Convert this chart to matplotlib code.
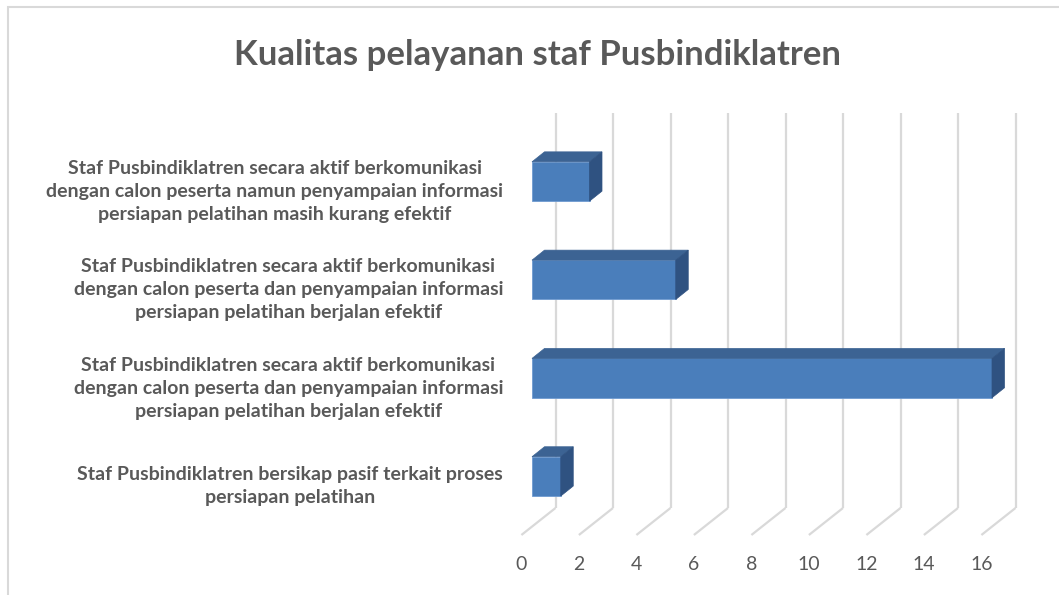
import matplotlib
matplotlib.use("Agg")
import matplotlib.pyplot as plt
from matplotlib.patches import Polygon, Rectangle

# ---------------- data ----------------
categories = [
    "Staf Pusbindiklatren secara aktif berkomunikasi\ndengan calon peserta namun penyampaian informasi\npersiapan pelatihan masih kurang efektif",
    "Staf Pusbindiklatren secara aktif berkomunikasi\ndengan calon peserta dan penyampaian informasi\npersiapan pelatihan berjalan efektif",
    "Staf Pusbindiklatren secara aktif berkomunikasi\ndengan calon peserta dan penyampaian informasi\npersiapan pelatihan berjalan efektif",
    "Staf Pusbindiklatren bersikap pasif terkait proses\npersiapan pelatihan",
]
values = [2, 5, 16, 1]
xticks = [0, 2, 4, 6, 8, 10, 12, 14, 16]
title = "Kualitas pelayanan staf Pusbindiklatren"

# ---------------- style / layout ----------------
W, H, DPI = 1059, 595, 100
FRONT = "#4A7EBB"
TOP = "#3C6393"
SIDE = "#2F5281"
GRID = "#D9D9D9"
TXT = "#595959"
FONT = "Lato"

fig = plt.figure(figsize=(W / DPI, H / DPI), dpi=DPI)
fig.patch.set_facecolor("white")

# axes placement in pixels
ax_l, ax_r, ax_t, ax_b = 500, 1045, 95, 595
ax = fig.add_axes([ax_l / W, (H - ax_b) / H, (ax_r - ax_l) / W, (ax_b - ax_t) / H])
ax.set_facecolor("none")
for s in ax.spines.values():
    s.set_visible(False)
ax.set_xticks([])
ax.set_yticks([])

# scales (pixels per data unit)
x0_px = 532.0        # pixel of value 0 on bar front face plane
sx = 28.75           # px per value unit
y0_px = 181.5        # pixel of first category center
sy = 98.3            # px per category
ax.set_xlim((ax_l - x0_px) / sx, (ax_r - x0_px) / sx)
ax.set_ylim((ax_b - y0_px) / sy, (ax_t - y0_px) / sy)

def px2dx(p):
    return p / sx

def px2dy(p):  # p positive = downward
    return p / sy

bar_h = 0.40
# depth offsets
bar_dx, bar_dy = px2dx(12.5), px2dy(-10.0)
wall_dx = px2dx(23.5)
floor_front_dx = px2dx(-10.6)
grid_top_y = px2dy(113 - y0_px)
floor_back_y = px2dy(508 - y0_px)
floor_front_y = px2dy(535 - y0_px)

# gridlines (back wall + floor)
for k in xticks:
    xb = k + wall_dx
    ax.plot([xb, xb], [grid_top_y, floor_back_y], color=GRID, lw=1.6,
            solid_capstyle="butt", zorder=1)
    ax.plot([xb, k + floor_front_dx], [floor_back_y, floor_front_y], color=GRID,
            lw=1.6, solid_capstyle="butt", zorder=1)
    ax.text(k + floor_front_dx, px2dy(565 - y0_px), str(k), ha="center", va="center",
            fontsize=14, color=TXT, family=FONT)

# bars
ypos = list(range(len(values)))
ax.barh(ypos, values, height=bar_h, left=0, color=FRONT, edgecolor="#6F9BD1",
        linewidth=0.6, zorder=3)
for y, v in zip(ypos, values):
    yt = y - bar_h / 2
    yb = y + bar_h / 2
    top = Polygon([(0, yt), (v, yt), (v + bar_dx, yt + bar_dy), (bar_dx, yt + bar_dy)],
                  closed=True, facecolor=TOP, edgecolor=TOP, lw=0.5, zorder=3)
    side = Polygon([(v, yt), (v, yb), (v + bar_dx, yb + bar_dy), (v + bar_dx, yt + bar_dy)],
                   closed=True, facecolor=SIDE, edgecolor=SIDE, lw=0.5, zorder=3)
    ax.add_patch(top)
    ax.add_patch(side)

# category labels
for y, lab in zip(ypos, categories):
    ax.text(px2dx(503 - x0_px), y + px2dy(10), lab, ha="right", va="center",
            multialignment="center", fontsize=14, fontweight="bold", color=TXT,
            family=FONT, linespacing=1.43, clip_on=False)

# title
fig.text(537 / W, 1 - 55 / H, title, ha="center", va="center", fontsize=25,
         fontweight="bold", color=TXT, family=FONT)

# chart border
fig.add_artist(Rectangle((8 / W, -0.1), 1.2, (H - 7) / H + 0.1, transform=fig.transFigure,
                         fill=False, edgecolor=GRID, lw=1.5))

fig.savefig("out.png", dpi=DPI, facecolor="white")
